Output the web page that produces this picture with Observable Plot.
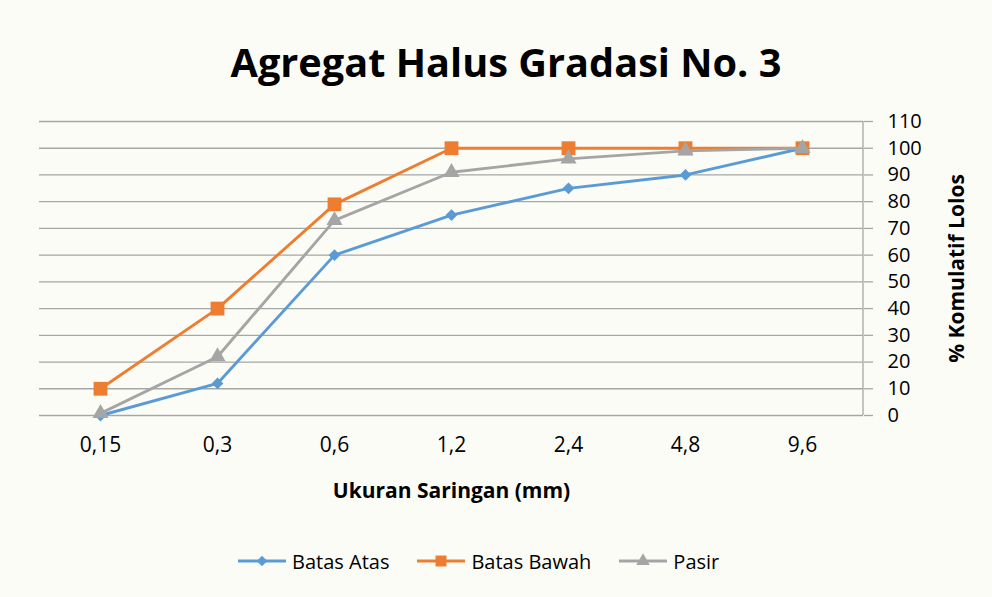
<!DOCTYPE html>
<html>
<head>
<meta charset="utf-8">
<script src="https://cdn.jsdelivr.net/npm/d3@7"></script>
<script src="https://cdn.jsdelivr.net/npm/@observablehq/plot@0.6"></script>
<style>
  html, body { margin: 0; padding: 0; background: #fcfcf7; }
  #wrap { width: 992px; height: 597px; position: relative; overflow: hidden; background: #fcfcf7; }
  #title { height: 105px; display: flex; align-items: center; justify-content: center; padding-left: 20px; box-sizing: border-box;
           font-family: "Open Sans", sans-serif; font-weight: 700; font-size: 39.7px; color: #000; padding-top: 18px; }
  #chart { height: 420px; }
  #legend { height: 72px; display: flex; align-items: center; justify-content: flex-start; padding-left: 238px; box-sizing: border-box;
            font-family: "Open Sans", sans-serif; font-size: 20px; color: #000; }
  .item { display: flex; align-items: center; gap: 6px; margin-right: 28px; }
  .item svg { display: block; }
</style>
</head>
<body>
<div id="wrap">
  <div id="title">Agregat Halus Gradasi No. 3</div>
  <div id="chart"></div>
  <div id="legend"></div>
</div>
<script>
const categories = ["0,15", "0,3", "0,6", "1,2", "2,4", "4,8", "9,6"];
const batasAtas  = [0, 12, 60, 75, 85, 90, 100];
const batasBawah = [10, 40, 79, 100, 100, 100, 100];
const pasir      = [0.8, 22, 73, 91, 96, 99, 100];
const seriesNames = ["Batas Atas", "Batas Bawah", "Pasir"];
const seriesColors = ["#5b9bd5", "#ed7d31", "#a5a5a5"];
const seriesSymbols = ["diamond2", "square", "triangle"];
const seriesRadius = [5.3, 7.8, 6.0];
const yTicks = [0, 10, 20, 30, 40, 50, 60, 70, 80, 90, 100, 110];
const xLabel = "Ukuran Saringan (mm)";
const yLabel = "% Komulatif Lolos";

const seriesValues = [batasAtas, batasBawah, pasir];
const data = seriesNames.flatMap((s, si) =>
  categories.map((c, i) => ({ series: s, size: c, value: seriesValues[si][i] })));

const dotMarks = seriesNames.map((s, si) =>
  Plot.dot(data.filter(d => d.series === s), {
    x: "size", y: "value", symbol: "series", fill: "series", r: seriesRadius[si], stroke: "none"
  }));
const lineMarks = seriesNames.map((s) =>
  Plot.line(data.filter(d => d.series === s), {
    x: "size", y: "value", stroke: "series", strokeWidth: 2.9
  }));

const chart = Plot.plot({
  width: 992, height: 420,
  marginLeft: 39, marginRight: 129, marginTop: 16, marginBottom: 110,
  style: { background: "transparent", fontFamily: "'Open Sans', sans-serif", fontSize: "20px", color: "#000", overflow: "visible" },
  x: { type: "point", domain: categories, padding: 0.5, label: null },
  y: { domain: [0, 110], label: null },
  color: { domain: seriesNames, range: seriesColors },
  symbol: { domain: seriesNames, range: seriesSymbols },
  marks: [
    Plot.ruleY(yTicks, { stroke: "#a6a6a6", strokeWidth: 1.3 }),
    Plot.axisY(yTicks, { anchor: "right", tickSize: 9, tickPadding: 15, stroke: "#a6a6a6", strokeWidth: 1.3, fill: "#000", fontSize: 20, label: null }),
    Plot.axisX({ tickSize: 0, tickPadding: 22, fontSize: 21, fill: "#000", label: null }),
    lineMarks[0], dotMarks[0],
    lineMarks[1], dotMarks[1],
    lineMarks[2], dotMarks[2],
    Plot.text([xLabel], { frameAnchor: "bottom", dy: 82, fontWeight: "bold", fontSize: 21, fill: "#000", textAnchor: "middle" }),
    Plot.text([yLabel], { frameAnchor: "right", dx: 94, rotate: -90, fontWeight: "bold", fontSize: 21, fill: "#000", textAnchor: "middle" })
  ]
});
document.getElementById("chart").appendChild(chart);

// vertical axis line on the right edge of the frame, positioned via the scales
const xs = chart.scale("x"), ys = chart.scale("y");
const svgNode = chart.tagName.toLowerCase() === "svg" ? chart : chart.querySelector("svg");
const xr = xs.range[1];
const vline = document.createElementNS("http://www.w3.org/2000/svg", "line");
vline.setAttribute("x1", xr); vline.setAttribute("x2", xr);
vline.setAttribute("y1", ys.apply(0)); vline.setAttribute("y2", ys.apply(110));
vline.setAttribute("stroke", "#a6a6a6"); vline.setAttribute("stroke-width", 1.3);
const firstLine = svgNode.querySelector('g[aria-label="line"]');
if (firstLine) svgNode.insertBefore(vline, firstLine); else svgNode.appendChild(vline);

// legend
const legend = d3.select("#legend");
const legendSymbols = [d3.symbolDiamond2, d3.symbolSquare, d3.symbolTriangle];
const legendSizes = [70, 120, 80];
seriesNames.forEach((s, i) => {
  const item = legend.append("div").attr("class", "item");
  const sw = item.append("svg").attr("width", 48).attr("height", 20);
  sw.append("line").attr("x1", 0).attr("x2", 48).attr("y1", 10).attr("y2", 10)
    .attr("stroke", seriesColors[i]).attr("stroke-width", 2.9);
  sw.append("path").attr("d", d3.symbol(legendSymbols[i], legendSizes[i])()).attr("transform", "translate(24,10)")
    .attr("fill", seriesColors[i]);
  item.append("span").text(s);
});
</script>
</body>
</html>
